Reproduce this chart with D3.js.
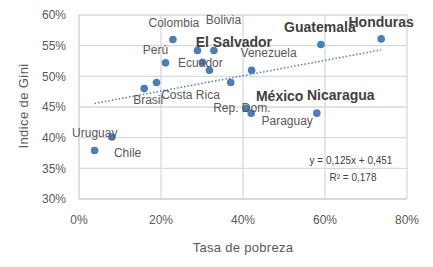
<!DOCTYPE html>
<html>
<head>
<meta charset="utf-8">
<script src="https://cdn.jsdelivr.net/npm/d3@7"></script>
<style>
  body { margin: 0; background: #fff; }
  svg { display: block; font-family: 'Liberation Sans', Arial, sans-serif; }
</style>
</head>
<body>
<div id="chart"></div>
<script>
// Data
const countries = ['Chile', 'Uruguay', 'Brasil', 'Costa Rica', 'Perú', 'Colombia', 'Bolivia', 'Ecuador', '',
  'El Salvador', 'México', 'Venezuela', 'Rep. Dom.', 'Paraguay', 'Nicaragua', 'Guatemala', 'Honduras'];
const poverty = [0.038, 0.080, 0.159, 0.189, 0.211, 0.229, 0.289, 0.301, 0.318,
  0.329, 0.370, 0.421, 0.407, 0.420, 0.580, 0.590, 0.737];
const gini = [0.379, 0.401, 0.480, 0.490, 0.522, 0.560, 0.542, 0.523, 0.510,
  0.542, 0.490, 0.510, 0.448, 0.440, 0.440, 0.552, 0.561];
const boldNames = ['El Salvador', 'México', 'Nicaragua', 'Guatemala', 'Honduras'];
const xTicks = [0, 0.2, 0.4, 0.6, 0.8];
const yTicks = [0.30, 0.35, 0.40, 0.45, 0.50, 0.55, 0.60];
const slope = 0.125, intercept = 0.451;
const eqText = 'y = 0,125x  + 0,451';
const r2Text = 'R² = 0,178';

// label placement (pixel offsets from the point)
const labelOffset = {
  'Chile': [33, 2], 'Uruguay': [-17, -4], 'Brasil': [4, 11], 'Costa Rica': [34, 12],
  'Perú': [-10, -13], 'Colombia': [1, -17], 'Bolivia': [26, -31], 'Ecuador': [-2, 1],
  'El Salvador': [20, -8], 'México': [49, 14], 'Venezuela': [17, -17], 'Rep. Dom.': [-4, 0],
  'Paraguay': [36, 8], 'Nicaragua': [24, -18], 'Guatemala': [-1, -17], 'Honduras': [0, -17]
};

const width = 433, height = 267;
const svg = d3.select('#chart').append('svg')
  .attr('width', width).attr('height', height);

const x = d3.scaleLinear().domain([0, 0.8]).range([79, 407]);
const y = d3.scaleLinear().domain([0.3, 0.6]).range([199, 15]);
const pct = d3.format('.0%');

// grid
svg.append('g').selectAll('line').data(yTicks.slice(1)).join('line')
  .attr('x1', x(0)).attr('x2', x(0.8))
  .attr('y1', d => y(d)).attr('y2', d => y(d))
  .attr('stroke', '#d9d9d9').attr('stroke-width', 1.3);
svg.append('g').selectAll('line').data(xTicks.slice(1)).join('line')
  .attr('y1', y(0.3)).attr('y2', y(0.6))
  .attr('x1', d => x(d)).attr('x2', d => x(d))
  .attr('stroke', '#d9d9d9').attr('stroke-width', 1.3);
// axis lines
svg.append('line').attr('x1', x(0)).attr('x2', x(0)).attr('y1', y(0.3)).attr('y2', y(0.6))
  .attr('stroke', '#d0d0d0').attr('stroke-width', 1.3);
svg.append('line').attr('x1', x(0)).attr('x2', x(0.8)).attr('y1', y(0.3)).attr('y2', y(0.3))
  .attr('stroke', '#d9d9d9').attr('stroke-width', 2);

// tick labels
svg.append('g').selectAll('text').data(yTicks).join('text')
  .attr('x', 66).attr('y', d => y(d)).attr('dy', '0.35em')
  .attr('text-anchor', 'end').attr('font-size', 12).attr('fill', '#595959')
  .text(pct);
svg.append('g').selectAll('text').data(xTicks).join('text')
  .attr('x', d => x(d)).attr('y', 220).attr('dy', '0.35em')
  .attr('text-anchor', 'middle').attr('font-size', 12).attr('fill', '#595959')
  .text(pct);

// axis titles
svg.append('text')
  .attr('x', 243).attr('y', 247).attr('dy', '0.35em')
  .attr('text-anchor', 'middle').attr('font-size', 13).attr('letter-spacing', 0.3)
  .attr('fill', '#595959').text('Tasa de pobreza');
svg.append('text')
  .attr('transform', 'translate(23,106) rotate(-90)')
  .attr('dy', '0.35em')
  .attr('text-anchor', 'middle').attr('font-size', 13).attr('letter-spacing', 0.4)
  .attr('fill', '#595959').text('Indice de Gini');

// trend line
const xMin = d3.min(poverty), xMax = d3.max(poverty);
svg.append('line')
  .attr('x1', x(xMin)).attr('y1', y(intercept + slope * xMin))
  .attr('x2', x(xMax)).attr('y2', y(intercept + slope * xMax))
  .attr('stroke', '#4f81bd').attr('stroke-width', 1.5)
  .attr('stroke-dasharray', '1.5,2');

// points
const pts = countries.map((c, i) => ({ name: c, px: poverty[i], g: gini[i] }));
svg.append('g').selectAll('circle').data(pts).join('circle')
  .attr('cx', d => x(d.px)).attr('cy', d => y(d.g)).attr('r', 3.8)
  .attr('fill', '#4a7ebb');

// labels
svg.append('g').selectAll('text').data(pts.filter(d => d.name)).join('text')
  .attr('x', d => x(d.px) + labelOffset[d.name][0])
  .attr('y', d => y(d.g) + labelOffset[d.name][1])
  .attr('dy', '0.35em')
  .attr('text-anchor', 'middle')
  .attr('font-size', d => boldNames.includes(d.name) ? 14 : 12)
  .attr('font-weight', d => boldNames.includes(d.name) ? 'bold' : 'normal')
  .attr('fill', d => boldNames.includes(d.name) ? '#404040' : '#595959')
  .text(d => d.name);

// regression text
svg.append('text').attr('x', 351).attr('y', 160).attr('dy', '0.35em')
  .attr('text-anchor', 'middle').attr('font-size', 10).attr('fill', '#404040')
  .text(eqText);
svg.append('text').attr('x', 353).attr('y', 177).attr('dy', '0.35em')
  .attr('text-anchor', 'middle').attr('font-size', 10).attr('fill', '#404040')
  .text(r2Text);
</script>
</body>
</html>
